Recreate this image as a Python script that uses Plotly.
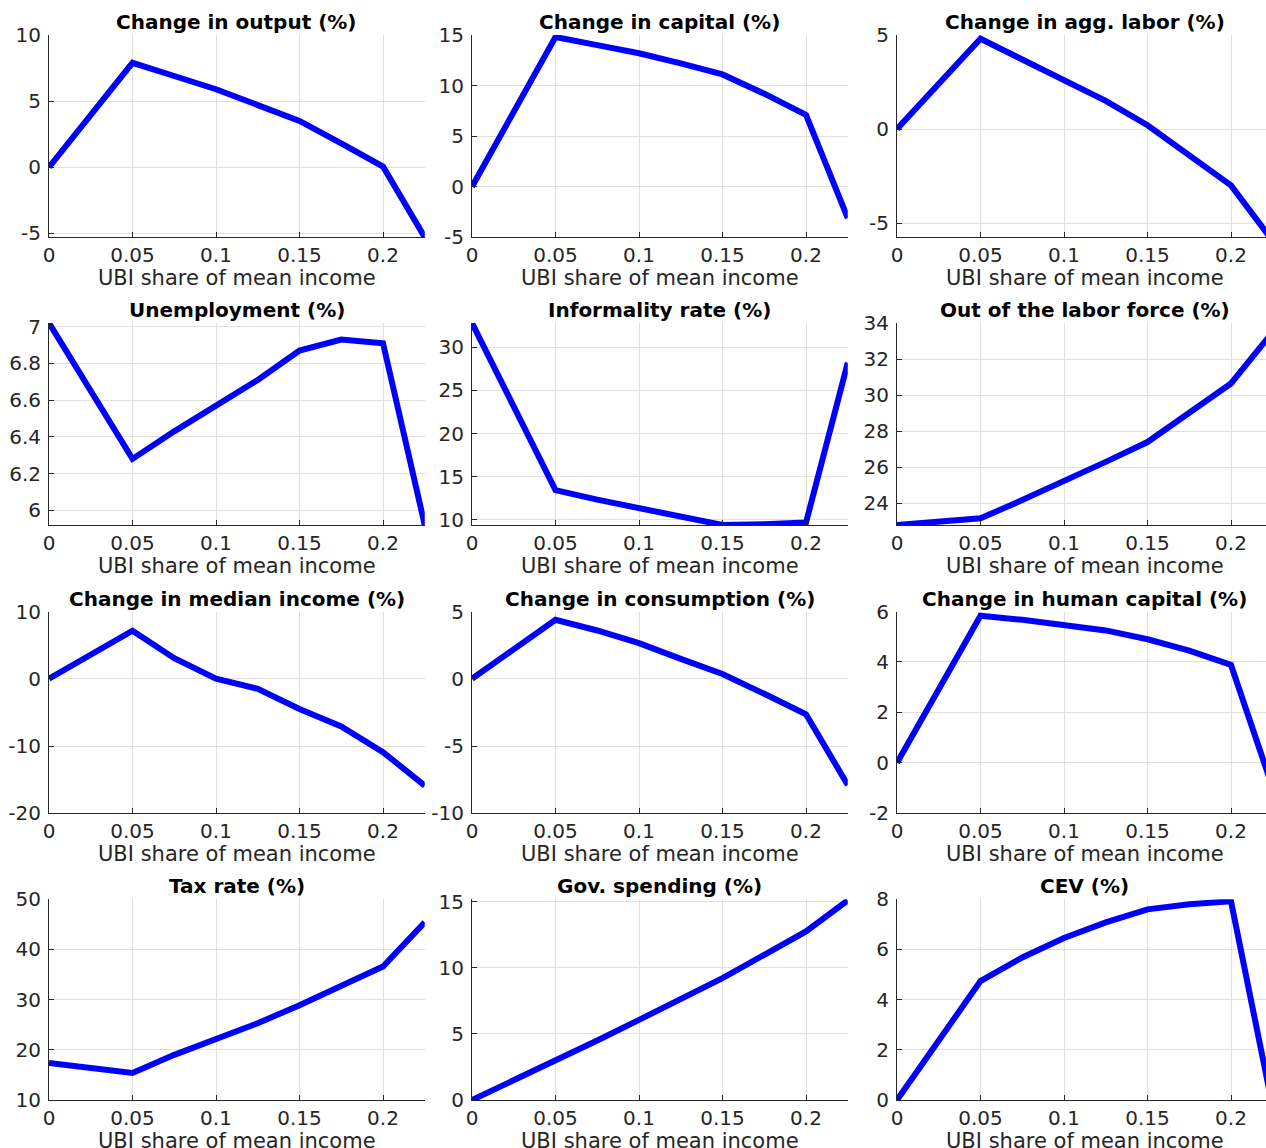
import plotly.graph_objects as go

# ---------------- data ----------------
ubi_share = [0, 0.05, 0.075, 0.1, 0.125, 0.15, 0.175, 0.2, 0.225]

output_change = [0, 7.9, 6.9, 5.9, 4.7, 3.5, 1.8, 0.05, -5.3]
capital_change = [0, 14.8, 14.0, 13.2, 12.2, 11.1, 9.2, 7.1, -3.1]
labor_change = [0, 4.8, 3.7, 2.6, 1.5, 0.2, -1.4, -3.0, -5.95]
unemployment = [7.02, 6.28, 6.43, 6.57, 6.71, 6.87, 6.93, 6.91, 5.92]
informality = [32.8, 13.45, 12.35, 11.35, 10.4, 9.42, 9.5, 9.7, 28.2]
out_of_lf = [22.8, 23.17, 24.18, 25.2, 26.3, 27.4, 29.0, 30.65, 33.5]
median_income_change = [0, 7.15, 3.05, 0, -1.5, -4.5, -7.1, -10.9, -15.9]
consumption_change = [0, 4.38, 3.59, 2.65, 1.48, 0.36, -1.12, -2.64, -7.9]
human_capital_change = [0, 5.83, 5.67, 5.47, 5.25, 4.9, 4.45, 3.88, -1.0]
tax_rate = [17.4, 15.4, 19.0, 22.0, 25.3, 28.9, 32.7, 36.6, 45.4]
gov_spending = [0, 2.96, 4.5, 6.07, 7.6, 9.23, 11.0, 12.77, 15.12]
cev = [0, 4.74, 5.68, 6.46, 7.08, 7.6, 7.8, 7.92, -0.3]

titles = [
    "Change in output (%)", "Change in capital (%)", "Change in agg. labor (%)",
    "Unemployment (%)", "Informality rate (%)", "Out of the labor force (%)",
    "Change in median income (%)", "Change in consumption (%)", "Change in human capital (%)",
    "Tax rate (%)", "Gov. spending (%)", "CEV (%)",
]
series = [
    output_change, capital_change, labor_change,
    unemployment, informality, out_of_lf,
    median_income_change, consumption_change, human_capital_change,
    tax_rate, gov_spending, cev,
]
y_ranges = [
    [-5.3, 10], [-5, 15], [-5.76, 5],
    [5.92, 7.02], [9.42, 32.8], [22.8, 34],
    [-20, 10], [-10, 5], [-2, 6],
    [10, 50], [0, 15.2], [0, 8],
]
y_ticks = [
    [-5, 0, 5, 10], [-5, 0, 5, 10, 15], [-5, 0, 5],
    [6, 6.2, 6.4, 6.6, 6.8, 7], [10, 15, 20, 25, 30], [24, 26, 28, 30, 32, 34],
    [-20, -10, 0, 10], [-10, -5, 0, 5], [-2, 0, 2, 4, 6],
    [10, 20, 30, 40, 50], [0, 5, 10, 15], [0, 2, 4, 6, 8],
]
y_ticktext = [[("%g" % v) for v in t] for t in y_ticks]
x_ticks = [0, 0.05, 0.1, 0.15, 0.2]
x_ticktext = ["0", "0.05", "0.1", "0.15", "0.2"]
x_label = "UBI share of mean income"

# ---------------- layout geometry (page pixels) ----------------
W, H = 1266, 1148
col_left = [49, 472, 897]
px_per_unit = 1670.0
x_max = 0.225
row_top = [35, 323, 611.5, 899.3]
row_bot = [237.3, 525, 813.3, 1100]

FONT = "DejaVu Sans"
TXT = "#262626"
GRID = "#dfdfdf"


def fx(p):
    return p / W


def fy(p):
    return 1 - p / H


fig = go.Figure()
layout = dict(
    template="none",
    width=W, height=H, margin=dict(l=0, r=0, t=0, b=0, pad=0),
    paper_bgcolor="white", plot_bgcolor="white", showlegend=False,
    annotations=[],
)

for i in range(12):
    r, c = divmod(i, 3)
    n = i + 1
    left = col_left[c]
    full_right = left + x_max * px_per_unit
    right = min(full_right, W)
    xr = [0, (right - left) / px_per_unit]
    xa = "xaxis" if n == 1 else f"xaxis{n}"
    ya = "yaxis" if n == 1 else f"yaxis{n}"
    xref = "x" if n == 1 else f"x{n}"
    yref = "y" if n == 1 else f"y{n}"

    fig.add_trace(go.Scatter(
        x=ubi_share, y=series[i], mode="lines",
        line=dict(color="#0000ff", width=6),
        xaxis=xref, yaxis=yref, hoverinfo="skip",
    ))

    common = dict(
        showgrid=True, gridcolor=GRID, gridwidth=1,
        showline=True, linecolor=TXT, linewidth=1, mirror=False,
        ticks="inside", ticklen=5, tickcolor=TXT, tickwidth=1,
        tickfont=dict(family=FONT, size=20, color=TXT),
        zeroline=False, fixedrange=True, automargin=False,
    )
    layout[xa] = dict(
        common, domain=[fx(left), fx(right)], range=xr, anchor=yref,
        tickmode="array", tickvals=x_ticks, ticktext=x_ticktext,
        ticklabelstandoff=0,
    )
    layout[ya] = dict(
        common, domain=[fy(row_bot[r]), fy(row_top[r])],
        range=y_ranges[i], anchor=xref,
        tickmode="array", tickvals=y_ticks[i], ticktext=y_ticktext[i],
        ticklabelstandoff=3,
    )

    cx = fx((left + full_right) / 2.0)
    layout["annotations"].append(dict(
        text=f"<b>{titles[i]}</b>", x=cx, y=fy(row_top[r] - 13),
        xref="paper", yref="paper", xanchor="center", yanchor="middle",
        showarrow=False, font=dict(family=FONT, size=20, color="black"),
    ))
    layout["annotations"].append(dict(
        text=x_label, x=cx, y=fy(row_bot[r] + 41),
        xref="paper", yref="paper", xanchor="center", yanchor="middle",
        showarrow=False, font=dict(family=FONT, size=21, color=TXT),
    ))

fig.update_layout(**layout)
fig.write_html(
    "out.html",
    config={"displayModeBar": False, "staticPlot": True},
    post_script="document.body.style.margin='0';document.body.style.overflow='hidden';",
)
